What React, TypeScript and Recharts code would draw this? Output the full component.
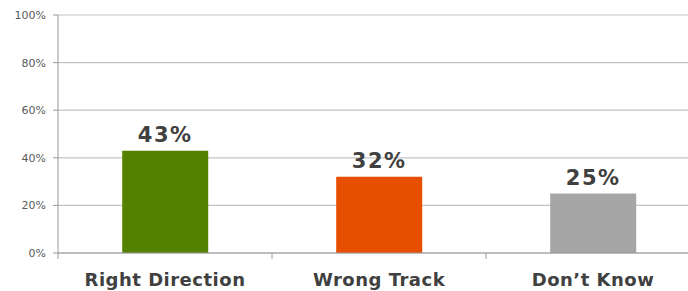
import { BarChart, Bar, XAxis, YAxis, CartesianGrid, Cell, LabelList } from "recharts";

const categories = ["Right Direction", "Wrong Track", "Don\u2019t Know"];
const shares = [43, 32, 25];
const colors = ["#548200", "#e84e00", "#a6a6a6"];
const yTicks = [0, 20, 40, 60, 80, 100];

const data = categories.map((name, i) => ({ name, value: shares[i] }));

const font = "'DejaVu Sans', Verdana, sans-serif";
const W = 700;
const AXIS_W = 58;
const band = (W - AXIS_W) / categories.length;

// category label plus a small tick at the left edge of each band
function CategoryTick(props: any) {
  const { x, y, payload } = props;
  const left = x - band / 2;
  return (
    <g>
      <line x1={left} x2={left} y1={y - 8} y2={y - 2} stroke="#9a9a9a" />
      <text
        x={x}
        y={y}
        dy={25}
        textAnchor="middle"
        fill="#404040"
        fontSize={18}
        fontWeight={700}
        fontFamily={font}
        letterSpacing={0.5}
      >
        {payload.value}
      </text>
    </g>
  );
}

export default function App() {
  return (
    <div
      style={{
        position: "fixed",
        top: 0,
        left: 0,
        width: 688,
        height: 291,
        overflow: "hidden",
        background: "#fff",
      }}
    >
      <BarChart
        width={W}
        height={291}
        data={data}
        margin={{ top: 15, right: 0, left: 0, bottom: 0 }}
        barCategoryGap="30%"
      >
        <CartesianGrid vertical={false} stroke="#c4c4c4" strokeWidth={1.2} />
        <XAxis
          dataKey="name"
          height={38}
          axisLine={{ stroke: "#9a9a9a" }}
          tickLine={false}
          interval={0}
          tick={<CategoryTick />}
        />
        <YAxis
          width={AXIS_W}
          domain={[0, 100]}
          ticks={yTicks}
          tickFormatter={(v) => `${v}%`}
          axisLine={{ stroke: "#9a9a9a" }}
          tickLine={{ stroke: "#9a9a9a" }}
          tickSize={5}
          tickMargin={7}
          tick={{ fill: "#595959", fontSize: 11, fontFamily: font }}
        />
        <Bar dataKey="value" isAnimationActive={false}>
          {data.map((d, i) => (
            <Cell key={d.name} fill={colors[i]} />
          ))}
          <LabelList
            dataKey="value"
            position="top"
            offset={9}
            formatter={(v: number) => `${v}%`}
            style={{ fill: "#404040", fontSize: 21, fontWeight: 700, fontFamily: font, letterSpacing: 1.5 }}
          />
        </Bar>
      </BarChart>
    </div>
  );
}
